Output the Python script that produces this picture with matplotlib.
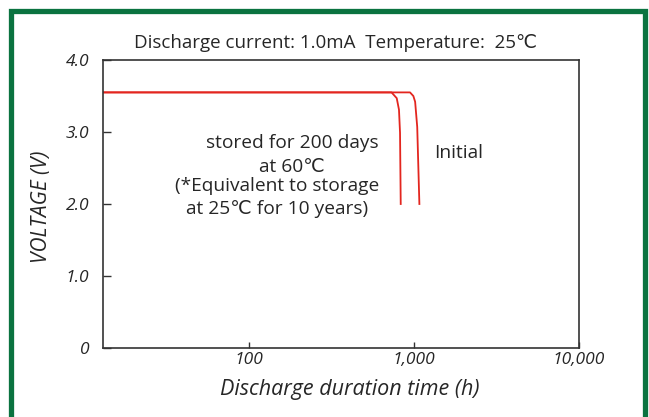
import matplotlib
matplotlib.use('Agg')
import matplotlib.pyplot as plt
from matplotlib.lines import Line2D

plt.rcParams['font.family'] = ['Open Sans', 'DejaVu Sans']

# data
stored_hours = [13, 730, 785, 810, 822, 830]
stored_volts = [3.55, 3.55, 3.47, 3.31, 2.99, 2.0]
initial_hours = [13, 945, 990, 1015, 1045, 1077]
initial_volts = [3.55, 3.55, 3.50, 3.42, 3.07, 2.0]

x_ticks = [100, 1000, 10000]
x_tick_labels = ['100', '1,000', '10,000']
y_ticks = [0, 1, 2, 3, 4]
y_tick_labels = ['0', '1.0', '2.0', '3.0', '4.0']

W, H = 649, 417
fig = plt.figure(figsize=(W / 100, H / 100), dpi=100)
ax = fig.add_axes([103 / W, 1 - 348 / H, 476 / W, 288 / H])

red = '#e3261f'
ax.plot(stored_hours, stored_volts, color=red, lw=1.3)
ax.plot(initial_hours, initial_volts, color=red, lw=1.3)

ax.set_xscale('log')
ax.set_xlim(13, 10000)
ax.set_ylim(0, 4)
ax.set_xticks(x_ticks)
ax.set_xticklabels(x_tick_labels)
ax.xaxis.set_minor_locator(matplotlib.ticker.NullLocator())
ax.set_yticks(y_ticks)
ax.set_yticklabels(y_tick_labels)

txt = '#262626'
ax.tick_params(axis='x', direction='in', length=4.5, width=1, pad=3,
               labelsize=12.5, labelcolor=txt, color='#333333')
ax.tick_params(axis='y', direction='in', length=6, width=1, pad=10,
               labelsize=12.5, labelcolor=txt, color='#333333')
for lab in ax.get_xticklabels() + ax.get_yticklabels():
    lab.set_fontstyle('italic')
for sp in ax.spines.values():
    sp.set_color('#333333')
    sp.set_linewidth(1.2)

# titles and labels
fig.text(336 / W, 1 - 43 / H, 'Discharge current: 1.0mA  Temperature:  25\u2103',
         ha='center', va='center', fontsize=13.5, color=txt)
fig.text(350 / W, 1 - 390 / H, 'Discharge duration time (h)',
         ha='center', va='center', fontsize=15.5, color=txt, fontstyle='italic')
fig.text(42 / W, 1 - 207 / H, 'VOLTAGE (V)', rotation=90,
         ha='center', va='center', fontsize=15, color=txt, fontstyle='italic')

# annotations
fs = 13.8
fig.text(292 / W, 1 - 143 / H, 'stored for 200 days', ha='center', va='center',
         fontsize=fs, color=txt)
fig.text(292 / W, 1 - 167 / H, 'at 60\u2103', ha='center', va='center',
         fontsize=fs, color=txt)
fig.text(277 / W, 1 - 186 / H, '(*Equivalent to storage', ha='center', va='center',
         fontsize=fs, color=txt)
fig.text(277 / W, 1 - 209 / H, 'at 25\u2103 for 10 years)', ha='center', va='center',
         fontsize=fs, color=txt)
fig.text(434 / W, 1 - 153 / H, 'Initial', ha='left', va='center',
         fontsize=fs, color=txt)

# green frame (open at the bottom)
green = '#0b7340'
fig.add_artist(Line2D([10.5 / W, 10.5 / W, 645 / W, 645 / W],
                      [-0.02, 1 - 10.5 / H, 1 - 10.5 / H, -0.02],
                      color=green, lw=3.8, solid_joinstyle='miter',
                      transform=fig.transFigure))

fig.savefig('out.png', dpi=100)
